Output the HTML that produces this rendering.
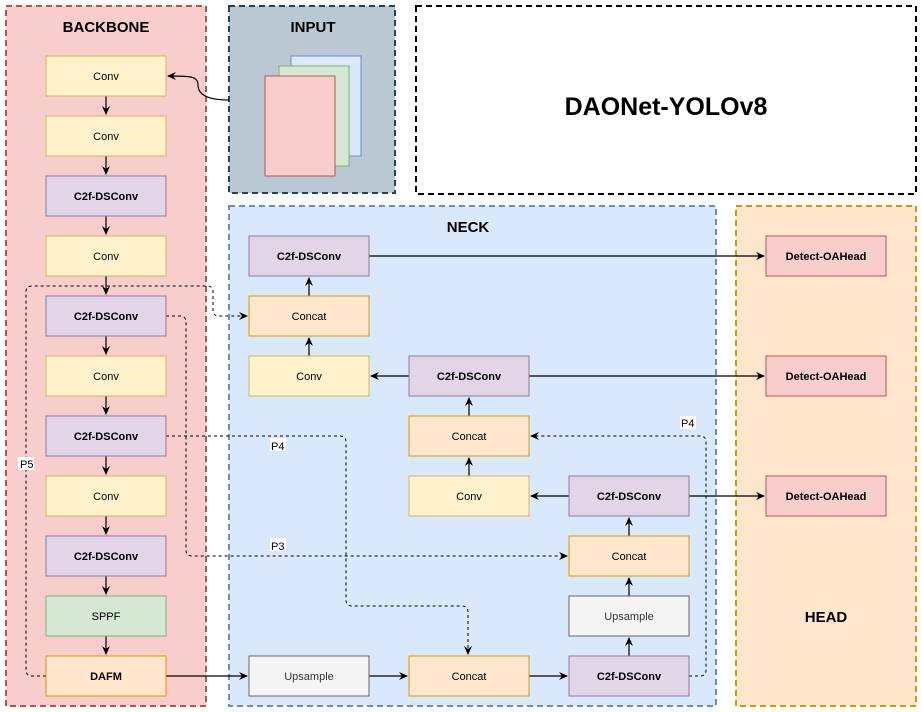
<!DOCTYPE html>
<html><head><meta charset="utf-8"><style>
html,body{margin:0;padding:0;background:#fff}
svg{display:block;font-family:"Liberation Sans",Arial,sans-serif}
</style></head><body>
<svg width="922" height="712" viewBox="0 0 922 712" xmlns="http://www.w3.org/2000/svg">
<defs>
<marker id="a" markerWidth="10" markerHeight="10" refX="8" refY="5" orient="auto" markerUnits="userSpaceOnUse">
<path d="M0,1 L9,5 L0,9 L3,5 Z" fill="#000"/></marker>
</defs>
<!-- containers -->
<rect x="6" y="6" width="200" height="700" fill="#f8cecc" stroke="#b85450" stroke-width="2" stroke-dasharray="6,4"/>
<rect x="229" y="6" width="166" height="187" fill="#bac8d3" stroke="#23445d" stroke-width="2" stroke-dasharray="6,4"/>
<rect x="416" y="6" width="500" height="188" fill="#fff" stroke="#000" stroke-width="2" stroke-dasharray="6,4"/>
<rect x="229" y="206" width="487" height="500" fill="#dae8fc" stroke="#6c8ebf" stroke-width="2" stroke-dasharray="6,4"/>
<rect x="736" y="206" width="180" height="500" fill="#ffe6cc" stroke="#d79b00" stroke-width="2" stroke-dasharray="6,4"/>
<g font-weight="bold" font-size="15" text-anchor="middle" fill="#000">
<text x="106" y="32">BACKBONE</text>
<text x="313" y="32">INPUT</text>
<text x="468" y="232">NECK</text>
<text x="826" y="622">HEAD</text>
<text x="666" y="115" font-size="25">DAONet-YOLOv8</text>
</g>
<!-- input pages -->
<rect x="291" y="56" width="70" height="100" fill="#dae8fc" stroke="#6c8ebf"/>
<rect x="279" y="66" width="70" height="100" fill="#d5e8d4" stroke="#82b366"/>
<rect x="265" y="76" width="70" height="100" fill="#f8cecc" stroke="#b85450"/>
<!-- dashed connectors -->
<g fill="none" stroke="#000" stroke-width="1" stroke-dasharray="3,3">
<path d="M46,676 H32 Q26,676 26,670 V292 Q26,286 32,286 H207 Q213,286 213,292 V310 Q213,316 219,316 H247" marker-end="url(#a)"/>
<path d="M166,316 H180 Q186,316 186,322 V550 Q186,556 192,556 H567" marker-end="url(#a)"/>
<path d="M166,436 H340 Q346,436 346,442 V600 Q346,606 352,606 H462 Q468,606 468,612 V654" marker-end="url(#a)"/>
<path d="M689,676 H700 Q706,676 706,670 V442 Q706,436 700,436 H531" marker-end="url(#a)"/>
</g>
<g font-size="11" fill="#000">
<rect x="18" y="457" width="16" height="13" fill="#fff"/><text x="20" y="468">P5</text>
<rect x="270" y="438" width="16" height="13" fill="#fff"/><text x="271" y="450">P4</text>
<rect x="270" y="538" width="16" height="13" fill="#fff"/><text x="271" y="550">P3</text>
<rect x="680" y="416" width="16" height="13" fill="#fff"/><text x="681" y="427">P4</text>
</g>
<!-- solid connectors -->
<g fill="none" stroke="#000" stroke-width="1.2">
<path d="M229,100 C200,100 198,90 198,85 C198,76 190,76 168,76" marker-end="url(#a)"/>
<path d="M106,96 V114" marker-end="url(#a)"/>
<path d="M106,156 V174" marker-end="url(#a)"/>
<path d="M106,216 V234" marker-end="url(#a)"/>
<path d="M106,276 V294" marker-end="url(#a)"/>
<path d="M106,336 V354" marker-end="url(#a)"/>
<path d="M106,396 V414" marker-end="url(#a)"/>
<path d="M106,456 V474" marker-end="url(#a)"/>
<path d="M106,516 V534" marker-end="url(#a)"/>
<path d="M106,576 V594" marker-end="url(#a)"/>
<path d="M106,636 V654" marker-end="url(#a)"/>
<path d="M166,676 H247" marker-end="url(#a)"/>
<path d="M369,676 H407" marker-end="url(#a)"/>
<path d="M529,676 H567" marker-end="url(#a)"/>
<path d="M629,656 V638" marker-end="url(#a)"/>
<path d="M629,596 V578" marker-end="url(#a)"/>
<path d="M629,536 V518" marker-end="url(#a)"/>
<path d="M569,496 H531" marker-end="url(#a)"/>
<path d="M469,476 V458" marker-end="url(#a)"/>
<path d="M469,416 V398" marker-end="url(#a)"/>
<path d="M409,376 H371" marker-end="url(#a)"/>
<path d="M309,356 V338" marker-end="url(#a)"/>
<path d="M309,296 V278" marker-end="url(#a)"/>
<path d="M369,256 H764" marker-end="url(#a)"/>
<path d="M529,376 H764" marker-end="url(#a)"/>
<path d="M689,496 H764" marker-end="url(#a)"/>
</g>
<!-- boxes -->
<g font-size="11" text-anchor="middle">
<!-- backbone -->
<rect x="46" y="56" width="120" height="40" fill="#fff2cc" stroke="#d6b656"/><text x="106" y="80">Conv</text>
<rect x="46" y="116" width="120" height="40" fill="#fff2cc" stroke="#d6b656"/><text x="106" y="140">Conv</text>
<rect x="46" y="176" width="120" height="40" fill="#e1d5e7" stroke="#9673a6"/><text x="106" y="200" font-weight="bold">C2f-DSConv</text>
<rect x="46" y="236" width="120" height="40" fill="#fff2cc" stroke="#d6b656"/><text x="106" y="260">Conv</text>
<rect x="46" y="296" width="120" height="40" fill="#e1d5e7" stroke="#9673a6"/><text x="106" y="320" font-weight="bold">C2f-DSConv</text>
<rect x="46" y="356" width="120" height="40" fill="#fff2cc" stroke="#d6b656"/><text x="106" y="380">Conv</text>
<rect x="46" y="416" width="120" height="40" fill="#e1d5e7" stroke="#9673a6"/><text x="106" y="440" font-weight="bold">C2f-DSConv</text>
<rect x="46" y="476" width="120" height="40" fill="#fff2cc" stroke="#d6b656"/><text x="106" y="500">Conv</text>
<rect x="46" y="536" width="120" height="40" fill="#e1d5e7" stroke="#9673a6"/><text x="106" y="560" font-weight="bold">C2f-DSConv</text>
<rect x="46" y="596" width="120" height="40" fill="#d5e8d4" stroke="#82b366"/><text x="106" y="620">SPPF</text>
<rect x="46" y="656" width="120" height="40" fill="#ffe6cc" stroke="#d79b00"/><text x="106" y="680" font-weight="bold">DAFM</text>
<!-- neck -->
<rect x="249" y="236" width="120" height="40" fill="#e1d5e7" stroke="#9673a6"/><text x="309" y="260" font-weight="bold">C2f-DSConv</text>
<rect x="249" y="296" width="120" height="40" fill="#ffe6cc" stroke="#d79b00"/><text x="309" y="320">Concat</text>
<rect x="249" y="356" width="120" height="40" fill="#fff2cc" stroke="#d6b656"/><text x="309" y="380">Conv</text>
<rect x="409" y="356" width="120" height="40" fill="#e1d5e7" stroke="#9673a6"/><text x="469" y="380" font-weight="bold">C2f-DSConv</text>
<rect x="409" y="416" width="120" height="40" fill="#ffe6cc" stroke="#d79b00"/><text x="469" y="440">Concat</text>
<rect x="409" y="476" width="120" height="40" fill="#fff2cc" stroke="#d6b656"/><text x="469" y="500">Conv</text>
<rect x="569" y="476" width="120" height="40" fill="#e1d5e7" stroke="#9673a6"/><text x="629" y="500" font-weight="bold">C2f-DSConv</text>
<rect x="569" y="536" width="120" height="40" fill="#ffe6cc" stroke="#d79b00"/><text x="629" y="560">Concat</text>
<rect x="569" y="596" width="120" height="40" fill="#f5f5f5" stroke="#666"/><text x="629" y="620" fill="#333">Upsample</text>
<rect x="249" y="656" width="120" height="40" fill="#f5f5f5" stroke="#666"/><text x="309" y="680" fill="#333">Upsample</text>
<rect x="409" y="656" width="120" height="40" fill="#ffe6cc" stroke="#d79b00"/><text x="469" y="680">Concat</text>
<rect x="569" y="656" width="120" height="40" fill="#e1d5e7" stroke="#9673a6"/><text x="629" y="680" font-weight="bold">C2f-DSConv</text>
<!-- head -->
<rect x="766" y="236" width="120" height="40" fill="#f8cecc" stroke="#b85450"/><text x="826" y="260" font-weight="bold">Detect-OAHead</text>
<rect x="766" y="356" width="120" height="40" fill="#f8cecc" stroke="#b85450"/><text x="826" y="380" font-weight="bold">Detect-OAHead</text>
<rect x="766" y="476" width="120" height="40" fill="#f8cecc" stroke="#b85450"/><text x="826" y="500" font-weight="bold">Detect-OAHead</text>
</g>
</svg>
</body></html>
